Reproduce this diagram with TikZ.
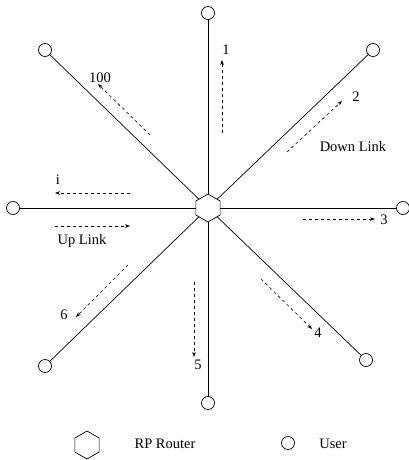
\documentclass[tikz,border=0pt]{standalone}
\usepackage{fontspec}
\setmainfont{Liberation Serif}
\usetikzlibrary{shapes.geometric,arrows.meta}
\begin{document}
\begin{tikzpicture}[x=1pt,y=-1pt,
  every node/.style={font=\fontsize{14.5}{17}\selectfont, inner sep=0pt, outer sep=0pt},
  user/.style={draw, circle, minimum size=13pt, line width=0.7pt},
  router/.style={draw, regular polygon, regular polygon sides=6, shape border rotate=30, minimum size=28pt, line width=0.7pt},
  link/.style={line width=0.7pt},
  flow/.style={dashed, dash pattern=on 3pt off 3pt, line width=0.6pt, -{Stealth[length=5pt,width=3.6pt]}},
  lbl/.style={text=black}]
\useasboundingbox (0,0) rectangle (409,460);
% hub and users
\node[router] (hub) at (208,208) {};
\node[user] (u1) at (208,13) {};
\node[user] (u2) at (373,50) {};
\node[user] (u3) at (403,208) {};
\node[user] (u4) at (366,360) {};
\node[user] (u5) at (208,403) {};
\node[user] (u6) at (45,366) {};
\node[user] (ui) at (13,208) {};
\node[user] (u100) at (45,50) {};
\foreach \u in {u1,u2,u3,u4,u5,u6,ui,u100} \draw[link] (hub) -- (\u);
% flow arrows
\coordinate (a1s) at (222,133); \coordinate (a1e) at (222,60);
\coordinate (a2s) at (287,152); \coordinate (a2e) at (342,101);
\coordinate (a3s) at (303,219); \coordinate (a3e) at (375,219);
\coordinate (a4s) at (261,279); \coordinate (a4e) at (312,329);
\coordinate (a5s) at (194,282); \coordinate (a5e) at (194,357);
\coordinate (a6s) at (128,265); \coordinate (a6e) at (76,317);
\coordinate (ais) at (130,193); \coordinate (aie) at (55,193);
\coordinate (aus) at (55,226); \coordinate (aue) at (130,226);
\coordinate (ahs) at (150,135); \coordinate (ahe) at (98,84);
\draw[flow] (a1s) -- (a1e);
\draw[flow] (a2s) -- (a2e);
\draw[flow] (a3s) -- (a3e);
\draw[flow] (a4s) -- (a4e);
\draw[flow] (a5s) -- (a5e);
\draw[flow] (a6s) -- (a6e);
\draw[flow] (ais) -- (aie);
\draw[flow] (aus) -- (aue);
\draw[flow] (ahs) -- (ahe);
% labels
\node[lbl] (l1) at (226,50) {1};
\node[lbl] (l2) at (356,97) {2};
\node[lbl] (l3) at (384,220) {3};
\node[lbl] (l4) at (318,333) {4};
\node[lbl] (l5) at (198,365) {5};
\node[lbl] (l6) at (64,315) {6};
\node[lbl] (li) at (58,180) {i};
\node[lbl] (l100) at (100,78) {100};
\node[lbl] (down) at (353,147) {Down Link};
\node[lbl] (up) at (82,241) {Up Link};
% legend
\node[router] (legr) at (87,445) {};
\node[lbl] (legrt) at (165,444) {RP Router};
\node[user] (legu) at (288,443) {};
\node[lbl] (legut) at (333,444) {User};
\end{tikzpicture}
\end{document}
